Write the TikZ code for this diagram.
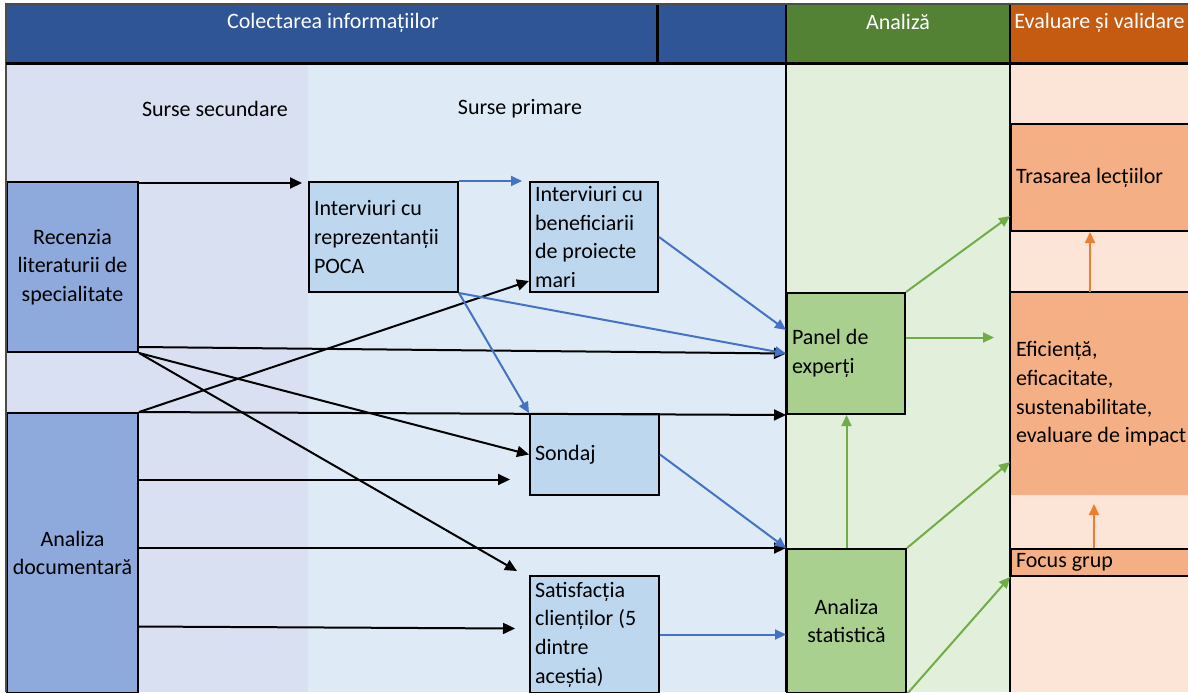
\documentclass[tikz,border=0pt]{standalone}
\usepackage{fontspec}
\setmainfont{Carlito}
\usepackage{xcolor}
\usepackage{tikz}
\usetikzlibrary{calc}
\usetikzlibrary {arrows.meta}
\definecolor{B0}{HTML}{2F5597}
\definecolor{B1}{HTML}{D9E0F2}
\definecolor{B2}{HTML}{DEEBF7}
\definecolor{B3}{HTML}{8EA9DB}
\definecolor{B4}{HTML}{BDD7EE}
\definecolor{B5}{HTML}{4472C4}
\definecolor{G0}{HTML}{548235}
\definecolor{G1}{HTML}{E2EFDA}
\definecolor{G2}{HTML}{A9D08E}
\definecolor{G3}{HTML}{70AD47}
\definecolor{O0}{HTML}{C55A11}
\definecolor{O1}{HTML}{FCE4D6}
\definecolor{O2}{HTML}{F4B084}
\definecolor{O3}{HTML}{ED7D31}

\begin{document}
\begin{tikzpicture}[x=0.5pt,y=-0.5pt,font=\fontsize{11}{14.3}\selectfont]
\tikzstyle{lbox}=[draw, line width=1pt, anchor=north west, align=flush left, inner sep=2.5pt]
\tikzstyle{cbox}=[draw, line width=1pt, anchor=north west, align=flush center, inner sep=2pt]
\tikzstyle{htxt}=[text=white, inner sep=0pt]
\tikzstyle{arrk}=[line width=1pt, -{Triangle[length=6pt,width=5.5pt]}]
\tikzstyle{arrb}=[B5, line width=1pt, -{Triangle[length=5.5pt,width=5pt]}]
\tikzstyle{arrg}=[G3, line width=1pt, -{Triangle[length=5.5pt,width=5pt]}]
\tikzstyle{arro}=[O3, line width=1pt, -{Triangle[length=5.5pt,width=5pt]}]
\useasboundingbox (0,0) rectangle (1188,692);
\clip (0,0) rectangle (1188,692);
%
\fill[B0] (6,5) rectangle (786,63);
\fill[G0] (786,5) rectangle (1010,63);
\fill[O0] (1010,5) rectangle (1188,63);
\fill[B1] (6,63) rectangle (308,692);
\fill[B2] (308,63) rectangle (786,692);
\fill[G1] (786,63) rectangle (1010,692);
\fill[O1] (1010,63) rectangle (1188,692);
%
\node[htxt](colect) at (333,23){Colectarea informațiilor};
\node[htxt](analiz) at (898,22){Analiză};
\node[htxt, anchor=west](evalv) at (1014,23){Evaluare și validare};
\node(sursesec) at (215,109){Surse secundare};
\node(surseprim) at (520,109){Surse primare};
%
\node[cbox, fill=B3, minimum width=65.5pt, minimum height=85pt](recenz) at (6,181){Recenzia\\literaturii de\\specialitate};
\node[cbox, fill=B3, minimum width=65.5pt, minimum height=140pt](docum) at (6,412){Analiza\\documentară};
\node[lbox, fill=B4, text width=69.5pt, minimum height=55pt](poca) at (308,181){Interviuri cu\\reprezentanții\\POCA};
\node[lbox, fill=B4, text width=59pt, minimum height=55pt, inner ysep=1pt](benef) at (529,181){Interviuri cu\\beneficiarii\\de proiecte\\mari};
\node[lbox, fill=B4, text width=59.5pt, minimum height=40.5pt](sondaj) at (529,413){Sondaj};
\node[lbox, fill=B4, text width=59.5pt, minimum height=58.5pt](satisf) at (529,575){Satisfacția\\clienților (5\\dintre\\aceștia)};
\node[lbox, fill=G2, text width=54pt, minimum height=60.5pt](panel) at (786,292){Panel de\\experți};
\node[cbox, fill=G2, minimum width=59.5pt, minimum height=72pt](statist) at (786,548){Analiza\\statistică};
\node[lbox, fill=O2, text width=95pt, minimum height=53.5pt](trasare) at (1010,123){Trasarea lecțiilor};
\node[lbox, draw=none, fill=O2, text width=95pt, minimum height=101pt](eficient) at (1010,292){Eficiență,\\eficacitate,\\sustenabilitate,\\evaluare de impact};
\node[lbox, fill=O2, text width=95pt, minimum height=13.5pt, inner ysep=1pt](focus) at (1010,548){Focus grup};
%
\draw[line width=1pt] (eficient.north west) -- (eficient.north east);
\draw[line width=1pt, black!70] (6,692) -- (6,4) -- (1188,4);
\draw[line width=1.5pt] (6,63) -- (1188,63);
\draw[line width=1.5pt] (657,5) -- (657,63);
\draw[line width=1.2pt] (786,5) -- (786,692);
\draw[line width=1.2pt] (1010,5) -- (1010,692);
%
\draw[arrk] ([yshift=-1pt]recenz.north east) -- ([xshift=-3pt,yshift=-1pt]poca.north west);
\draw[arrk] ([yshift=3pt]recenz.south east) -- (panel.west);
\draw[arrk] (recenz.south east) -- (sondaj.west);
\draw[arrk] (recenz.south east) -- ([xshift=-6pt,yshift=2pt]satisf.north west);
\draw[arrk] (docum.north east) -- ([yshift=6pt]benef.south west);
\draw[arrk] (docum.north east) -- (panel.south west);
\draw[arrk] ([yshift=-12.5pt]sondaj.west -| docum.east) -- ([xshift=-9.5pt,yshift=-12.5pt]sondaj.west);
\draw[arrk] (statist.north west -| docum.east) -- (statist.north west);
\draw[arrk] ([yshift=4pt]satisf.west -| docum.east) -- ([xshift=-7pt,yshift=3pt]satisf.west);
%
\draw[arrb] (poca.north east) -- ([xshift=-3.5pt]benef.north west);
\draw[arrb] (poca.south east) -- (sondaj.north west);
\draw[arrb] (poca.south east) -- (panel.west);
\draw[arrb] (benef.east) -- ([yshift=-19pt]panel.north west);
\draw[arrb] (sondaj.east) -- (statist.north west);
\draw[arrb] (satisf.east) -- (satisf.east -| statist.west);
%
\draw[arrg] (panel.north east) -- ([yshift=8pt]trasare.south west);
\draw[arrg] ([yshift=8pt]panel.east) -- ([xshift=-8pt,yshift=8pt]panel.east -| eficient.west);
\draw[arrg] (statist.north) -- (statist.north |- panel.south);
\draw[arrg] (statist.north east) -- ([yshift=17pt]eficient.south west);
\draw[arrg] (statist.south east) -- (focus.south west);
%
\draw[arro] ([xshift=40pt]eficient.north west) -- ([xshift=40pt]trasare.south west);
\draw[arro] ([xshift=42pt]focus.north west) -- ([xshift=42pt,yshift=-4pt]eficient.south west);
%
\end{tikzpicture}
\end{document}
